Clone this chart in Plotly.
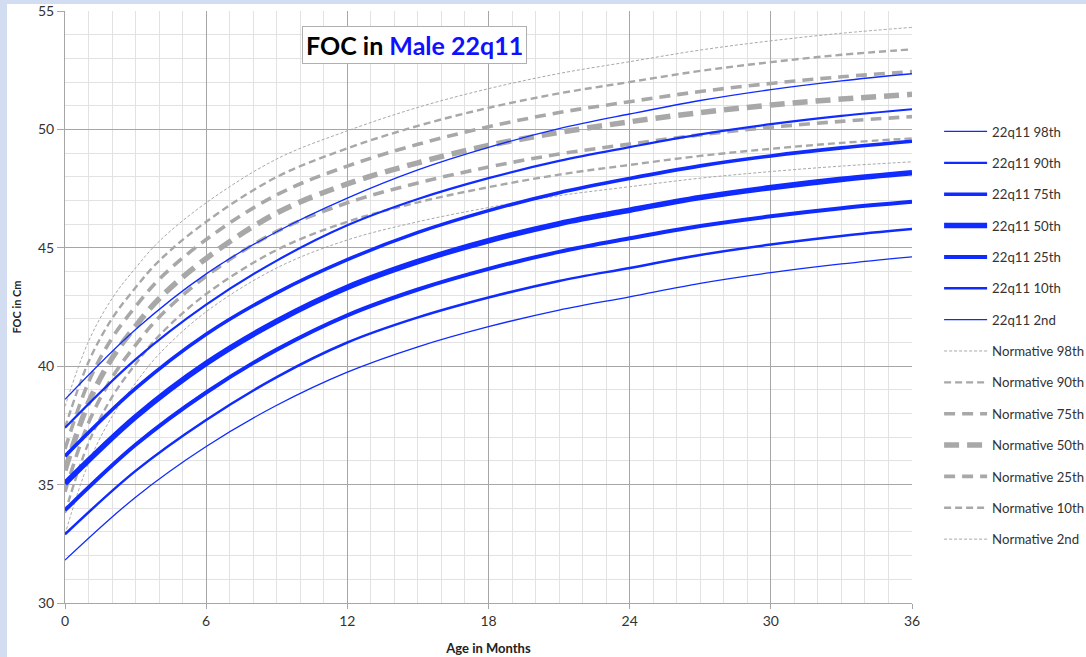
import plotly.graph_objects as go

# ---- data ----
months_22q = [0, 3, 6, 9, 12, 15, 18, 21, 24, 27, 30, 33, 36]
q98 = [38.6, 41.55, 43.9, 45.68, 47.1, 48.29, 49.24, 50.03, 50.65, 51.22, 51.68, 52.05, 52.35]
q90 = [37.4, 40.29, 42.6, 44.46, 45.95, 47.06, 47.94, 48.67, 49.25, 49.79, 50.22, 50.57, 50.85]
q75 = [36.2, 39.06, 41.35, 43.1, 44.5, 45.65, 46.57, 47.33, 47.93, 48.46, 48.88, 49.22, 49.5]
q50 = [35.05, 37.86, 40.12, 41.9, 43.33, 44.42, 45.3, 46.02, 46.59, 47.12, 47.54, 47.89, 48.17]
q25 = [33.92, 36.68, 38.89, 40.7, 42.15, 43.24, 44.11, 44.83, 45.4, 45.92, 46.33, 46.67, 46.94]
q10 = [32.9, 35.58, 37.73, 39.54, 41.0, 42.06, 42.9, 43.6, 44.15, 44.7, 45.14, 45.5, 45.79]
q02 = [31.81, 34.47, 36.61, 38.35, 39.75, 40.82, 41.67, 42.37, 42.93, 43.5, 43.95, 44.32, 44.62]

months_norm = [0, 1, 2, 3, 4, 6, 9, 12, 15, 18, 21, 24, 27, 30, 33, 36]
n98 = [38.3, 41.05, 42.86, 44.15, 45.27, 46.9, 48.75, 49.94, 50.93, 51.72, 52.36, 52.86, 53.35, 53.74, 54.06, 54.31]
n90 = [37.4, 40.18, 42.01, 43.32, 44.45, 46.1, 47.99, 49.2, 50.15, 50.91, 51.52, 52.0, 52.47, 52.84, 53.15, 53.38]
n75 = [36.5, 39.33, 41.19, 42.52, 43.67, 45.35, 47.24, 48.45, 49.37, 50.11, 50.71, 51.17, 51.6, 51.94, 52.22, 52.44]
n50 = [35.6, 38.46, 40.34, 41.69, 42.85, 44.55, 46.47, 47.7, 48.59, 49.32, 49.87, 50.32, 50.71, 51.03, 51.28, 51.48]
n25 = [34.7, 37.61, 39.52, 40.89, 42.07, 43.8, 45.69, 46.9, 47.74, 48.41, 48.96, 49.38, 49.77, 50.09, 50.34, 50.54]
n10 = [33.8, 36.76, 38.7, 40.09, 41.29, 43.05, 44.91, 46.1, 46.92, 47.56, 48.09, 48.5, 48.88, 49.18, 49.43, 49.62]
n02 = [32.9, 35.91, 37.88, 39.29, 40.51, 42.3, 44.15, 45.33, 46.1, 46.7, 47.2, 47.58, 47.94, 48.22, 48.45, 48.63]

q_names = ["22q11 98th", "22q11 90th", "22q11 75th", "22q11 50th", "22q11 25th", "22q11 10th", "22q11 2nd"]
n_names = ["Normative 98th", "Normative 90th", "Normative 75th", "Normative 50th",
           "Normative 25th", "Normative 10th", "Normative 2nd"]

x_ticks = [0, 6, 12, 18, 24, 30, 36]
y_ticks = [30, 35, 40, 45, 50, 55]

# ---- styles ----
BLUE = "#0f2bff"
GRAY = "#a8a8a8"
q_widths = [1.3, 2.2, 3.6, 5.6, 4.0, 2.5, 1.3]
n_widths = [1.0, 2.4, 3.6, 5.5, 3.6, 2.4, 1.0]
n_dash = ["3px,2px", "7px,4px", "11px,7px", "15px,8px", "11px,7px", "7px,4px", "3px,2px"]

fig = go.Figure()

norm_series = [n98, n90, n75, n50, n25, n10, n02]
q_series = [q98, q90, q75, q50, q25, q10, q02]

for i, (name, ys) in enumerate(zip(n_names, norm_series)):
    fig.add_trace(go.Scatter(
        x=months_norm, y=ys, name=name, mode="lines",
        line=dict(color=GRAY, width=n_widths[i], dash=n_dash[i], shape="spline", smoothing=1.0),
        legendgroup=name, legendrank=100 + i,
    ))

for i, (name, ys) in enumerate(zip(q_names, q_series)):
    fig.add_trace(go.Scatter(
        x=months_22q, y=ys, name=name, mode="lines",
        line=dict(color=BLUE, width=q_widths[i], shape="spline", smoothing=1.0),
        legendgroup=name, legendrank=i,
    ))

FONT = "Lato, 'Open Sans', sans-serif"

fig.update_layout(
    width=1086, height=657,
    margin=dict(l=65, r=174, t=11, b=54, autoexpand=False),
    paper_bgcolor="white", plot_bgcolor="white",
    font=dict(family=FONT, size=14, color="#333333"),
    showlegend=True,
    legend=dict(
        x=1.032, xanchor="left", y=0.822, yanchor="top",
        font=dict(family=FONT, size=13.2, color="#333333"),
        tracegroupgap=11.2, itemwidth=43, bgcolor="rgba(0,0,0,0)",
    ),
    xaxis=dict(
        range=[0, 36], tickvals=x_ticks, ticktext=[str(v) for v in x_ticks],
        showgrid=True, gridcolor="#a6a6a6", gridwidth=1,
        minor=dict(dtick=1, showgrid=True, gridcolor="#e2e2e2", gridwidth=1),
        ticks="outside", ticklen=5, tickcolor="#a6a6a6",
        showline=True, linecolor="#a6a6a6", linewidth=1,
        zeroline=False, automargin=False, tickfont=dict(size=14, color="#333333"),
        title=dict(text="<b>Age in Months</b>", font=dict(size=13, color="#222222"), standoff=16),
    ),
    yaxis=dict(
        range=[30, 55], tickvals=y_ticks, ticktext=[str(v) for v in y_ticks],
        showgrid=True, gridcolor="#a6a6a6", gridwidth=1,
        minor=dict(dtick=1, showgrid=True, gridcolor="#e2e2e2", gridwidth=1),
        ticks="outside", ticklen=7, tickcolor="#a6a6a6",
        showline=True, linecolor="#a6a6a6", linewidth=1,
        zeroline=False, automargin=False, tickfont=dict(size=14, color="#333333"),
        title=dict(text="<b>FOC in Cm</b>", font=dict(size=11, color="#222222"), standoff=14),
    ),
    annotations=[dict(
        xref="paper", yref="paper", x=(414 - 65) / 847, y=1 - (45 - 11) / 592,
        xanchor="center", yanchor="middle", showarrow=False,
        text="<b>FOC in <span style='color:#1010ff'>Male 22q11</span></b>",
        font=dict(family=FONT, size=25, color="#000000"),
        bgcolor="white", bordercolor="#b0b0b0", borderwidth=1, borderpad=3,
    )],
    shapes=[
        dict(type="rect", xref="paper", yref="paper", layer="above",
             x0=-65 / 847, x1=-58 / 847, y0=-54 / 592, y1=1 + 11 / 592,
             fillcolor="#d3ddf1", line=dict(width=0)),
        dict(type="rect", xref="paper", yref="paper", layer="above",
             x0=-65 / 847, x1=1 + 174 / 847, y0=1 + 7 / 592, y1=1 + 11 / 592,
             fillcolor="#d3ddf1", line=dict(width=0)),
    ],
)

fig.write_html("out.html")
